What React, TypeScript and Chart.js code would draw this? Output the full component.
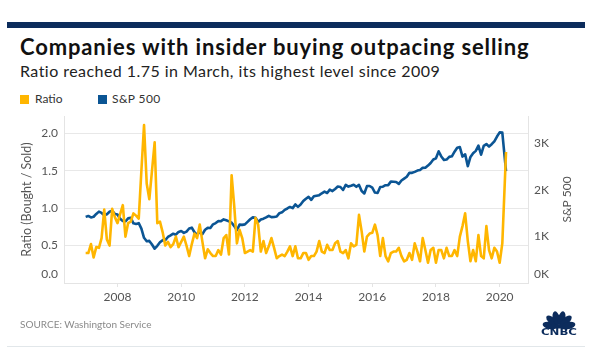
import React, { useEffect, useRef } from "react";
import { Chart, registerables } from "chart.js";

Chart.register(...registerables);

// First point is the close at the end of Dec 2006, then one point per month-end.
const START_YEAR = 2007;

const RATIO = [
  0.40, 0.40, 0.52, 0.34, 0.48, 0.47, 0.60, 0.98, 0.58, 0.50,
  0.99, 0.88, 0.80, 0.92, 1.04, 0.62, 0.80, 0.82, 0.93, 0.90,
  0.86, 1.50, 2.11, 1.33, 1.12, 1.50, 1.88, 0.80, 0.82, 0.68,
  0.50, 0.55, 0.48, 0.52, 0.62, 0.48, 0.55, 0.62, 0.50, 0.36,
  0.52, 0.66, 0.60, 0.78, 0.55, 0.33, 0.45, 0.40, 0.36, 0.36,
  0.44, 0.38, 0.60, 0.64, 0.38, 1.44, 1.02, 0.53, 0.71, 0.60,
  0.40, 0.42, 0.44, 0.42, 0.87, 0.78, 0.42, 0.56, 0.40, 0.49,
  0.60, 0.47, 0.33, 0.36, 0.38, 0.36, 0.42, 0.49, 0.36, 0.49,
  0.33, 0.33, 0.40, 0.40, 0.31, 0.36, 0.36, 0.42, 0.56, 0.42,
  0.40, 0.51, 0.44, 0.44, 0.53, 0.56, 0.42, 0.40, 0.44, 0.33,
  0.53, 0.49, 0.51, 0.91, 0.69, 0.42, 0.62, 0.66, 0.67, 0.78,
  0.64, 0.36, 0.60, 0.36, 0.29, 0.40, 0.42, 0.42, 0.47, 0.36,
  0.29, 0.31, 0.40, 0.31, 0.53, 0.42, 0.29, 0.60, 0.44, 0.27,
  0.44, 0.47, 0.27, 0.44, 0.44, 0.33, 0.47, 0.36, 0.36, 0.44,
  0.36, 0.62, 0.76, 0.93, 0.56, 0.29, 0.44, 0.29, 0.64, 0.36,
  0.33, 0.76, 0.44, 0.33, 0.47, 0.42, 0.27, 0.53, 1.75,
];

const SP500 = [
  1418,
  1438, 1407, 1421, 1482, 1531, 1503, 1455, 1474, 1527, 1549, 1481, 1468,
  1379, 1331, 1323, 1386, 1400, 1280, 1267, 1283, 1165, 969, 896, 903,
  826, 735, 798, 873, 919, 919, 987, 1021, 1057, 1036, 1096, 1115,
  1074, 1104, 1169, 1187, 1089, 1031, 1102, 1049, 1141, 1183, 1181, 1258,
  1286, 1327, 1326, 1364, 1345, 1321, 1292, 1219, 1131, 1253, 1247, 1258,
  1312, 1366, 1408, 1398, 1310, 1362, 1379, 1407, 1441, 1412, 1416, 1426,
  1498, 1515, 1569, 1598, 1631, 1606, 1686, 1633, 1682, 1757, 1806, 1848,
  1783, 1859, 1872, 1884, 1924, 1960, 1931, 2003, 1972, 2018, 2068, 2059,
  1995, 2105, 2068, 2086, 2107, 2063, 2104, 1972, 1920, 2079, 2080, 2044,
  1940, 1932, 2060, 2065, 2097, 2099, 2174, 2171, 2168, 2126, 2199, 2239,
  2279, 2364, 2363, 2384, 2412, 2423, 2470, 2472, 2519, 2575, 2648, 2674,
  2824, 2714, 2641, 2648, 2705, 2718, 2816, 2902, 2914, 2712, 2760, 2507,
  2704, 2784, 2834, 2946, 2752, 2942, 2980, 2926, 2977, 3038, 3141, 3231,
  3226, 2400,
];

// Month-end dates; the last reading is taken in March 2020.
const DATES = RATIO.map((_, i) => (i === RATIO.length - 1 ? 2020.2 : START_YEAR + i / 12));

const X_TICKS = [2008, 2010, 2012, 2014, 2016, 2018, 2020];
const RATIO_TICKS = [0, 0.5, 1, 1.5, 2];
const SP_TICKS = [0, 1000, 2000, 3000];

const YELLOW = "#FFB600";
const BLUE = "#0b5594";
const NAVY = "#0c2c5c";
const TICK_COLOR = "#555555";
const FONT = "Lato, 'Open Sans', sans-serif";

function CnbcLogo() {
  const angles = [-78, -47, -16, 16, 47, 78];
  return (
    <svg width="38" height="28" viewBox="0 0 38 28" style={{ position: "absolute", left: 540, top: 308 }}>
      {angles.map((a) => {
        const r = (a * Math.PI) / 180;
        const cx = 19 + Math.sin(r) * 9.5;
        const cy = 19.5 - Math.cos(r) * 9.5;
        return (
          <ellipse key={a} cx={cx} cy={cy} rx={3.5} ry={7.2} fill={NAVY}
            transform={`rotate(${a} ${cx} ${cy})`} />
        );
      })}
      <rect x="6" y="17" width="26" height="3.5" fill={NAVY} />
      <text x="19" y="27.4" textAnchor="middle" fontFamily="'DejaVu Sans', sans-serif"
        fontWeight="bold" fontSize="8" fill={NAVY} textLength="36" lengthAdjust="spacingAndGlyphs">CNBC</text>
    </svg>
  );
}

export default function App() {
  const canvasRef = useRef<HTMLCanvasElement | null>(null);

  useEffect(() => {
    let chart: Chart | null = null;
    let cancelled = false;

    const extras = {
      id: "extras",
      afterDraw(c: any) {
        const ctx = c.ctx;
        const y = c.scales.y;
        const y1 = c.scales.y1;
        ctx.save();
        ctx.font = `12px ${FONT}`;
        ctx.fillStyle = TICK_COLOR;
        ctx.textBaseline = "middle";
        ctx.textAlign = "right";
        ctx.fillText(RATIO_TICKS[0].toFixed(1), y.right - 6, y.getPixelForValue(0) - 9);
        ctx.textAlign = "left";
        ctx.fillText(SP_TICKS[0] / 1000 + "K", y1.left + 6, y1.getPixelForValue(0) - 9);
        ctx.translate(567, (c.chartArea.top + c.chartArea.bottom) / 2);
        ctx.rotate(-Math.PI / 2);
        ctx.textAlign = "center";
        ctx.fillText("S&P 500", 0, 0);
        ctx.restore();
      },
    };

    const build = () => {
      if (cancelled || !canvasRef.current) return;
      const tickFont = { family: FONT, size: 12 };
      chart = new Chart(canvasRef.current, {
        type: "line",
        data: {
          datasets: [
            {
              label: "Ratio",
              data: DATES.map((x, i) => ({ x, y: RATIO[i] })),
              yAxisID: "y",
              borderColor: YELLOW,
              backgroundColor: YELLOW,
              borderWidth: 2.6,
              pointRadius: 0,
              borderJoinStyle: "round",
              tension: 0,
            },
            {
              label: "S&P 500",
              data: DATES.map((x, i) => ({ x, y: SP500[i] })),
              yAxisID: "y1",
              borderColor: BLUE,
              backgroundColor: BLUE,
              borderWidth: 2.6,
              pointRadius: 0,
              borderJoinStyle: "round",
              tension: 0,
            },
          ],
        },
        options: {
          animation: false,
          responsive: false,
          maintainAspectRatio: false,
          layout: { padding: { top: 16, left: 0, right: 0, bottom: 0 } },
          plugins: { legend: { display: false }, tooltip: { enabled: false } },
          scales: {
            x: {
              type: "linear",
              min: 2006.32,
              max: 2020.89,
              afterBuildTicks: (s: any) => {
                s.ticks = X_TICKS.map((v) => ({ value: v }));
              },
              afterFit: (s: any) => {
                s.height = 37;
              },
              grid: { drawOnChartArea: false, drawTicks: true, tickLength: 4, color: "#e4e4e4" },
              border: { color: "#e4e4e4" },
              ticks: {
                font: tickFont,
                color: TICK_COLOR,
                padding: 3,
                maxRotation: 0,
                autoSkip: false,
                callback: (v: any) => String(v),
              },
            },
            y: {
              position: "left",
              min: 0,
              max: 2.231,
              afterBuildTicks: (s: any) => {
                s.ticks = RATIO_TICKS.map((v) => ({ value: v }));
              },
              afterFit: (s: any) => {
                s.width = 64;
              },
              grid: { color: "#e8e8e8", drawTicks: false },
              border: { color: "#e4e4e4" },
              ticks: {
                font: tickFont,
                padding: 6,
                color: (ctx: any) => (ctx.tick && ctx.tick.value === 0 ? "rgba(0,0,0,0)" : TICK_COLOR),
                callback: (v: any) => Number(v).toFixed(1),
              },
              title: {
                display: true,
                text: "Ratio (Bought / Sold)",
                font: { family: FONT, size: 12.5 },
                color: TICK_COLOR,
                padding: { top: 19, bottom: 0 },
              },
            },
            y1: {
              position: "right",
              min: 0,
              max: 3582,
              afterBuildTicks: (s: any) => {
                s.ticks = SP_TICKS.map((v) => ({ value: v }));
              },
              afterFit: (s: any) => {
                s.width = 71;
              },
              grid: { drawOnChartArea: false, drawTicks: false },
              border: { color: "#e4e4e4" },
              ticks: {
                font: tickFont,
                padding: 6,
                color: (ctx: any) => (ctx.tick && ctx.tick.value === 0 ? "rgba(0,0,0,0)" : TICK_COLOR),
                callback: (v: any) => Number(v) / 1000 + "K",
              },
            },
          },
        },
        plugins: [extras],
      } as any);
    };

    const fontsReady = (document as any).fonts
      ? Promise.all([
          (document as any).fonts.load(`12px Lato`),
          (document as any).fonts.load(`bold 22px Lato`),
        ]).catch(() => null)
      : Promise.resolve(null);
    fontsReady.then(build);

    return () => {
      cancelled = true;
      if (chart) chart.destroy();
    };
  }, []);

  return (
    <div style={{ position: "relative", width: 599, height: 364, background: "#fff", fontFamily: FONT, overflow: "hidden" }}>
      <style>{"body{margin:0}"}</style>
      <div style={{ position: "absolute", left: 7, top: 22, width: 578, height: 6, background: NAVY }} />
      <div style={{ position: "absolute", left: 20, top: 35.5, fontSize: 22, lineHeight: "22px", fontWeight: 700, letterSpacing: "0.86px", color: "#111", whiteSpace: "nowrap" }}>
        Companies with insider buying outpacing selling
      </div>
      <div style={{ position: "absolute", left: 20, top: 62.5, fontSize: 16, lineHeight: "16px", letterSpacing: "0.45px", color: "#222", whiteSpace: "nowrap" }}>
        Ratio reached 1.75 in March, its highest level since 2009
      </div>
      <div style={{ position: "absolute", left: 20, top: 95, width: 9, height: 9, background: YELLOW }} />
      <div style={{ position: "absolute", left: 35, top: 93.4, fontSize: 12, lineHeight: "12px", color: "#333" }}>Ratio</div>
      <div style={{ position: "absolute", left: 98, top: 95, width: 9, height: 9, background: BLUE }} />
      <div style={{ position: "absolute", left: 112, top: 93.4, fontSize: 12, lineHeight: "12px", letterSpacing: "0.4px", color: "#333" }}>S&amp;P 500</div>
      <canvas ref={canvasRef} width={599} height={220} style={{ position: "absolute", left: 0, top: 100, width: 599, height: 220 }} />
      <div style={{ position: "absolute", left: 20, top: 319, fontSize: 10, lineHeight: "11px", color: "#8a8a8a", whiteSpace: "nowrap" }}>
        SOURCE: Washington Service
      </div>
      <CnbcLogo />
      <div style={{ position: "absolute", left: 7, top: 346, width: 578, height: 1, background: "#e2e7ea" }} />
    </div>
  );
}
